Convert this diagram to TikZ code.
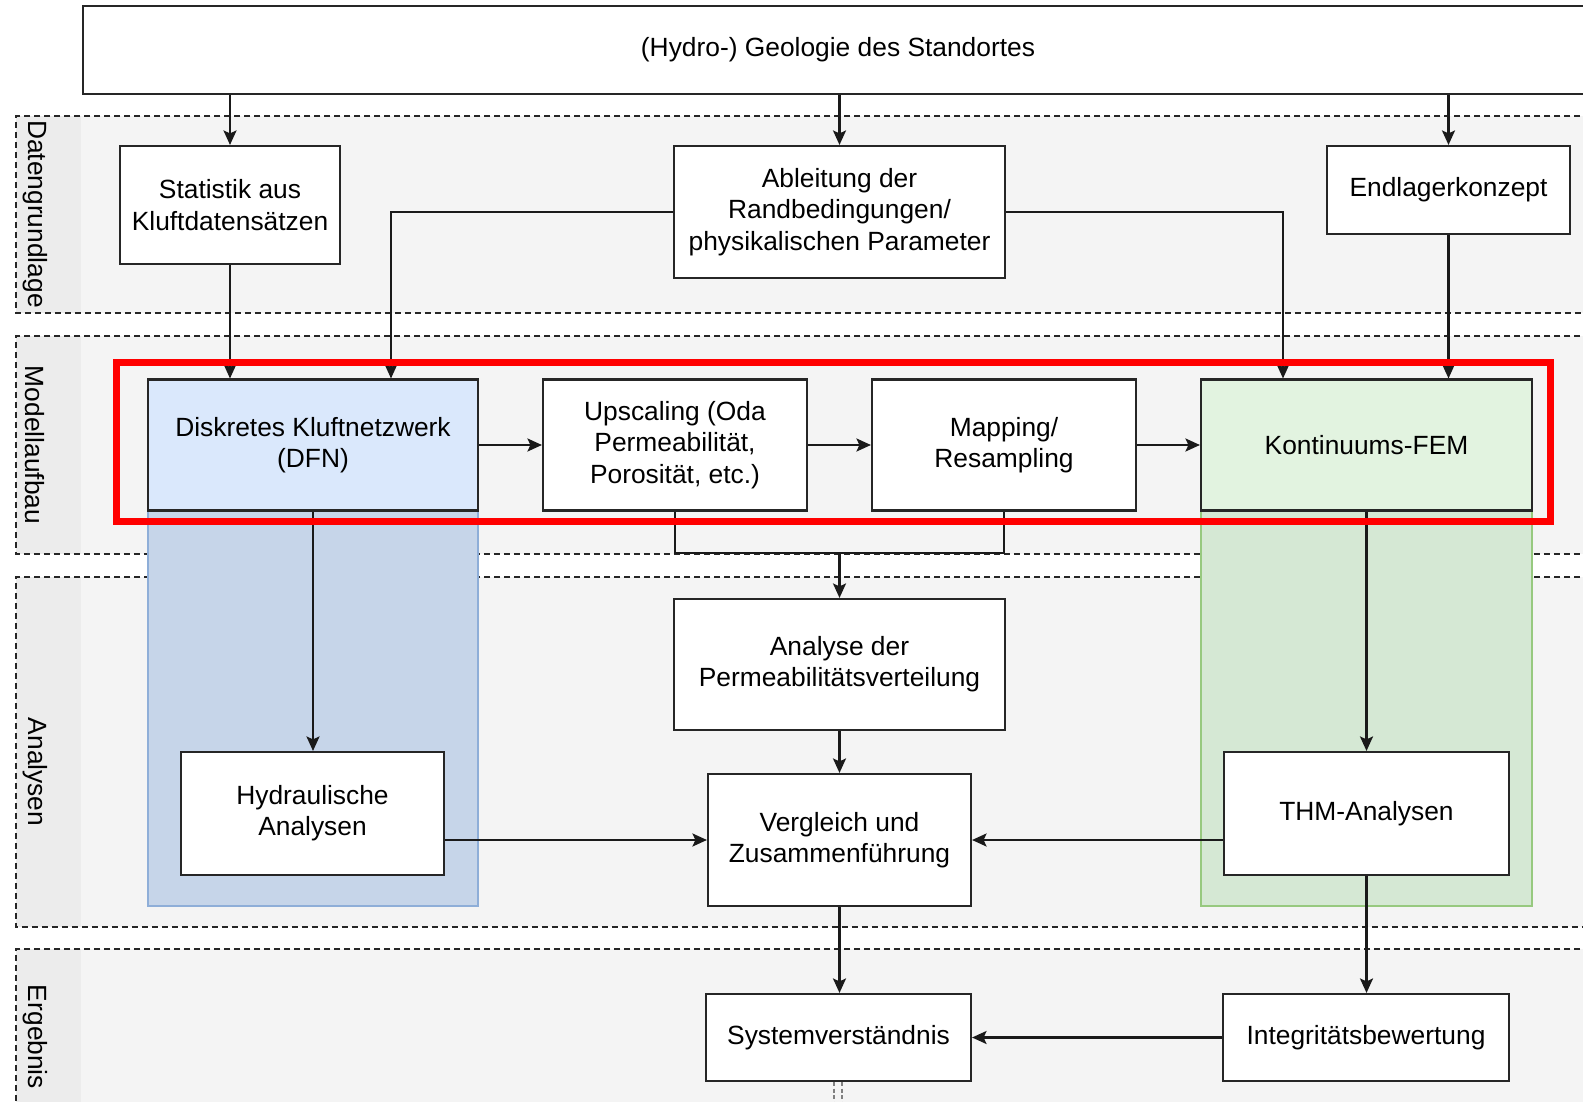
\documentclass[tikz,border=0pt]{standalone}
\usepackage{fontspec}
\setmainfont{Liberation Sans}
\usetikzlibrary{arrows.meta}

\definecolor{lanegray}{HTML}{F4F4F4}
\definecolor{labelgray}{HTML}{ECECEC}
\definecolor{dfnblue}{HTML}{DAE8FC}
\definecolor{colblue}{HTML}{C6D5E9}
\definecolor{colblueline}{HTML}{8EAED8}
\definecolor{femgreen}{HTML}{E2F3E0}
\definecolor{colgreen}{HTML}{D5E8D4}
\definecolor{colgreenline}{HTML}{97C97F}
\definecolor{lineclr}{HTML}{1A1A1A}

\begin{document}
\begin{tikzpicture}[x=0.1mm,y=-0.1mm,
  font=\fontsize{7.5}{8.9}\selectfont,
  box/.style={draw=black!85,line width=0.6pt,fill=white,align=center,inner sep=0pt},
  conn/.style={draw=lineclr,line width=0.65pt,-{Stealth[length=1.45mm,width=1.3mm,inset=0.3mm]}},
  link/.style={draw=lineclr,line width=0.65pt},
  lane/.style={draw=black!85,line width=0.45pt,dash pattern=on 0.6mm off 0.4mm},
  lanelabel/.style={rotate=-90,inner sep=0pt}]

\useasboundingbox (0,0) rectangle (1583,1102);
\clip (0,0) rectangle (1583,1102);


%draw the lanes with their labels
\foreach \ytop/\ybot in {116/313,336/554,577/927,949/1130}{
  \fill[lanegray] (16,\ytop) rectangle (1600,\ybot);
  \fill[labelgray] (16,\ytop) rectangle (81,\ybot);
  \draw[lane] (1600,\ytop) -- (16,\ytop) -- (16,\ybot) -- (1600,\ybot);
}
\node[lanelabel] (daten) at (35,214) {Datengrundlage};
\node[lanelabel] (modell) at (35,445) {Modellaufbau};
\node[lanelabel] (analysen) at (35,772) {Analysen};
\node[lanelabel] (ergebnis) at (35,1037) {Ergebnis};


%draw the coloured columns
\draw[fill=colblue,draw=colblueline,line width=0.5pt] (148,511) rectangle (478,906);
\draw[fill=colgreen,draw=colgreenline,line width=0.5pt] (1201,511) rectangle (1532,906);


%draw the boxes
\node[box,minimum width=151mm,minimum height=8.8mm] (geo) at (838,50) {(Hydro-) Geologie des Standortes};
\node[box,minimum width=22mm,minimum height=11.8mm] (stat) at (230,205) {Statistik aus\\Kluftdatensätzen};
\node[box,minimum width=33.1mm,minimum height=13.2mm] (abl) at (839.5,212) {Ableitung der\\Randbedingungen/\\physikalischen Parameter};
\node[box,minimum width=24.3mm,minimum height=8.8mm] (endl) at (1448.5,190) {Endlagerkonzept};

\node[box,fill=dfnblue,minimum width=33mm,minimum height=13.1mm] (dfn) at (313,445) {Diskretes Kluftnetzwerk\\(DFN)};
\node[box,minimum width=26.4mm,minimum height=13.1mm] (upsc) at (675,445) {Upscaling (Oda\\Permeabilität,\\Porosität, etc.)};
\node[box,minimum width=26.4mm,minimum height=13.1mm] (mapp) at (1004,445) {Mapping/\\Resampling};
\node[box,fill=femgreen,minimum width=33.1mm,minimum height=13.1mm] (fem) at (1366.5,445) {Kontinuums-FEM};

\node[box,minimum width=33.1mm,minimum height=13.1mm] (ana) at (839.5,664.5) {Analyse der\\Permeabilitätsverteilung};
\node[box,minimum width=26.3mm,minimum height=12.3mm] (hydr) at (312.5,813.5) {Hydraulische\\Analysen};
\node[box,minimum width=26.3mm,minimum height=13.2mm] (vergl) at (839.5,840) {Vergleich und\\Zusammenführung};
\node[box,minimum width=28.5mm,minimum height=12.3mm] (thm) at (1366.5,813.5) {THM-Analysen};

\node[box,minimum width=26.5mm,minimum height=8.7mm] (sys) at (838.5,1037.5) {Systemverständnis};
\node[box,minimum width=28.6mm,minimum height=8.7mm] (integ) at (1366,1037.5) {Integritätsbewertung};


%draw the connectors
\draw[conn] (geo.south -| stat.north) -- (stat.north);
\draw[conn] (geo.south -| abl.north) -- (abl.north);
\draw[conn] (geo.south -| endl.north) -- (endl.north);
\draw[conn] (stat.south) -- (stat.south |- dfn.north);
\draw[conn] (abl.west) -| ([xshift=7.8mm]dfn.north);
\draw[conn] (abl.east) -| ([xshift=-8.35mm]fem.north);
\draw[conn] (endl.south) -- (endl.south |- fem.north);

\draw[conn] (dfn) -- (upsc);
\draw[conn] (upsc) -- (mapp);
\draw[conn] (mapp) -- (fem);

\coordinate (join) at (839.5,553);
\draw[link] (upsc.south) |- (join) -| (mapp.south);
\draw[conn] (join) -- (ana.north);

\draw[conn] (dfn.south) -- (dfn.south |- hydr.north);
\draw[conn] (ana.south) -- (vergl.north);
\draw[conn] (hydr.east |- vergl.west) -- (vergl.west);
\draw[conn] (thm.west |- vergl.east) -- (vergl.east);
\draw[conn] (fem.south) -- (fem.south |- thm.north);

\draw[conn] (vergl.south) -- (vergl.south |- sys.north);
\draw[conn] (thm.south) -- (thm.south |- integ.north);
\draw[conn] (integ.west) -- (sys.east);

%short double line below the result
\draw[gray,line width=0.6pt,dash pattern=on 0.4mm off 0.25mm] ([xshift=-0.45mm]sys.south) -- ++(0,30);
\draw[gray,line width=0.6pt,dash pattern=on 0.4mm off 0.25mm] ([xshift=0.35mm]sys.south) -- ++(0,30);


%draw the red frame round the model row
\draw[red,line width=0.7mm] (116,362) rectangle (1550,521.5);
\end{tikzpicture}
\end{document}
